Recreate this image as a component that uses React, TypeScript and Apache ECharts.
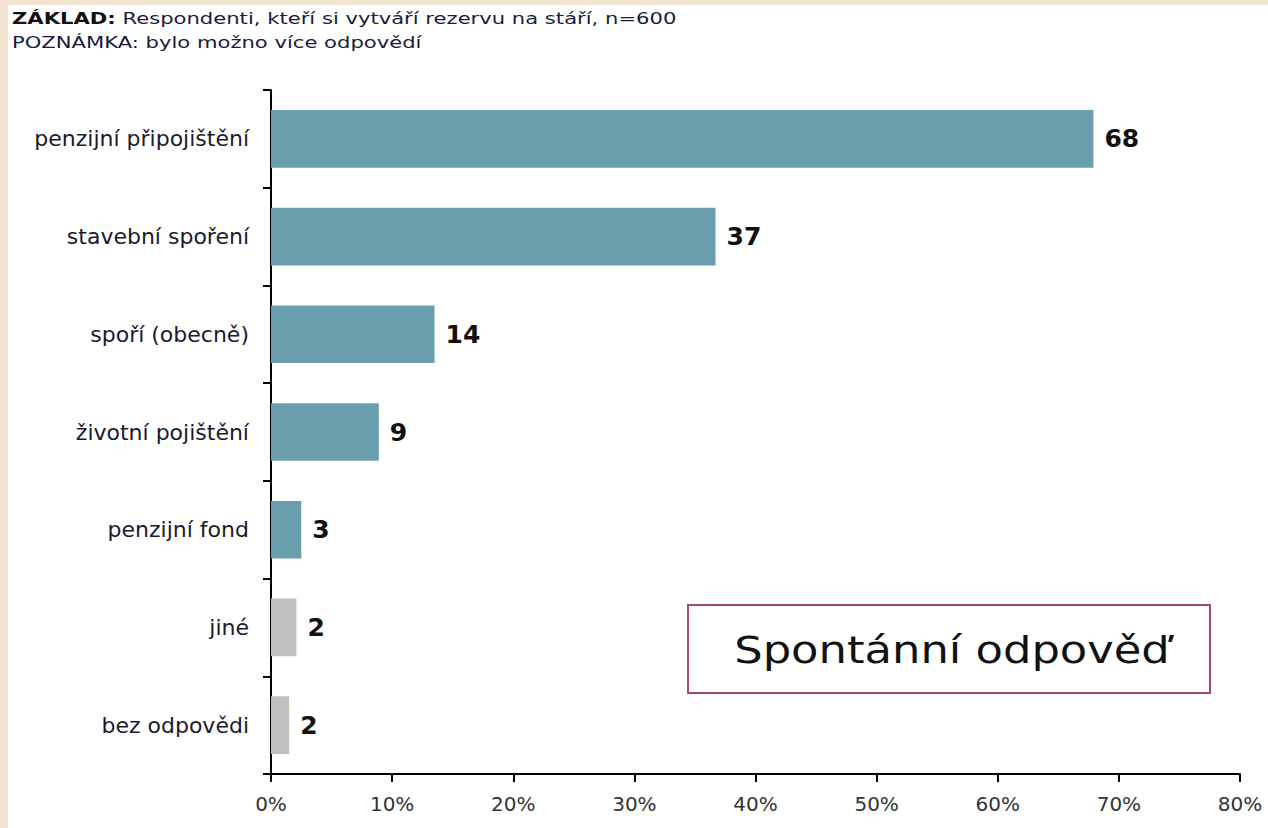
import React, { useEffect, useRef } from "react";
import * as echarts from "echarts";

const categories = [
  "penzijní připojištění",
  "stavební spoření",
  "spoří (obecně)",
  "životní pojištění",
  "penzijní fond",
  "jiné",
  "bez odpovědi",
];
const values = [67.9, 36.7, 13.5, 8.9, 2.5, 2.1, 1.5];
const valueLabels = ["68", "37", "14", "9", "3", "2", "2"];
const barColors = ["#699fad", "#699fad", "#699fad", "#699fad", "#699fad", "#c0c0c0", "#c0c0c0"];
const xTicks = [0, 10, 20, 30, 40, 50, 60, 70, 80];

const baseLine = "ZÁKLAD:";
const baseText = " Respondenti, kteří si vytváří rezervu na stáří, n=600";
const noteText = "POZNÁMKA: bylo možno více odpovědí";
const boxText = "Spontánní odpověď";

const FONT = "'DejaVu Sans', Verdana, sans-serif";

export default function App() {
  const ref = useRef<HTMLDivElement>(null);
  useEffect(() => {
    document.body.style.margin = "0";
    const chart = echarts.init(ref.current!, null, { renderer: "svg" });
    chart.setOption({
      animation: false,
      backgroundColor: "#ffffff",
      grid: { left: 271, right: 28, top: 90, bottom: 54, containLabel: false },
      xAxis: {
        type: "value",
        min: xTicks[0],
        max: xTicks[xTicks.length - 1],
        interval: 10,
        axisLine: { show: true, lineStyle: { color: "#000", width: 2 } },
        axisTick: { show: true, length: 8, lineStyle: { color: "#000", width: 2 } },
        splitLine: { show: false },
        axisLabel: {
          formatter: (v: number) => v + "%",
          color: "#333",
          fontFamily: FONT,
          fontSize: 20,
          margin: 20,
        },
      },
      yAxis: {
        type: "category",
        data: categories,
        inverse: true,
        axisLine: { show: true, lineStyle: { color: "#000", width: 2 } },
        axisTick: { show: true, length: 8, alignWithLabel: false, lineStyle: { color: "#000", width: 2 } },
        axisLabel: {
          color: "#1a1a2e",
          fontFamily: FONT,
          fontSize: 22,
          margin: 22,
        },
      },
      series: [
        {
          type: "bar",
          barWidth: "59%",
          data: values.map((v, i) => ({ value: v, itemStyle: { color: barColors[i] } })),
          label: {
            show: true,
            position: "right",
            distance: 11,
            formatter: (p: any) => valueLabels[p.dataIndex],
            color: "#111",
            fontFamily: FONT,
            fontWeight: "bold",
            fontSize: 25,
          },
        },
      ],
      graphic: [
        { type: "rect", left: 0, top: 0, shape: { width: 1268, height: 5 }, style: { fill: "#f3e5d1" }, silent: true },
        { type: "rect", left: 0, top: 0, shape: { width: 8, height: 828 }, style: { fill: "#f3e5d1" }, silent: true },
        {
          type: "text",
          x: 12,
          y: 10,
          scaleX: 1.32,
          style: {
            text: "{b|" + baseLine + "}{n|" + baseText + "}",
            rich: {
              b: { fontFamily: FONT, fontSize: 16, fontWeight: "bold", fill: "#111" },
              n: { fontFamily: FONT, fontSize: 16, fill: "#1a1a3a" },
            },
          },
        },
        {
          type: "text",
          x: 12,
          y: 34,
          scaleX: 1.32,
          style: { text: noteText, fontFamily: FONT, fontSize: 16, fill: "#1a1a3a" },
        },
        {
          type: "rect",
          left: 687,
          top: 604,
          shape: { width: 522, height: 88 },
          style: { fill: "#fff", stroke: "#a3476f", lineWidth: 2 },
        },
        {
          type: "text",
          x: 952,
          y: 650,
          scaleX: 1.18,
          style: {
            text: boxText,
            fontFamily: FONT,
            fontSize: 38,
            fill: "#111",
            align: "center",
            verticalAlign: "middle",
          },
        },
      ],
    });
    return () => chart.dispose();
  }, []);
  return <div ref={ref} style={{ width: 1268, height: 828 }} />;
}
